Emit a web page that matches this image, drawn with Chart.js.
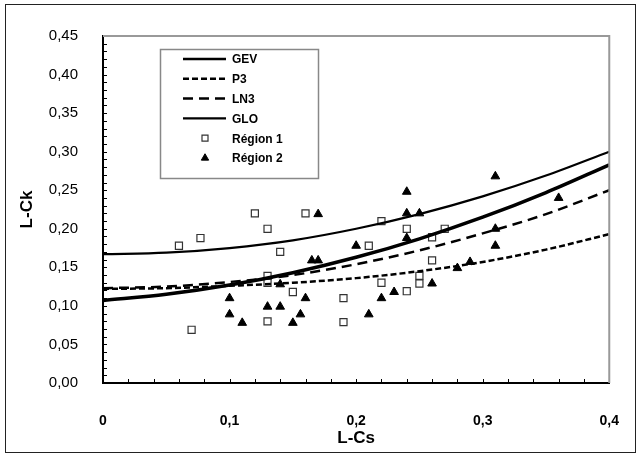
<!DOCTYPE html>
<html>
<head>
<meta charset="utf-8">
<script src="https://cdn.jsdelivr.net/npm/chart.js@4.4.1/dist/chart.umd.min.js"></script>
<style>
  html, body { margin: 0; padding: 0; background: #fff; }
  #wrap { width: 641px; height: 462px; }
</style>
</head>
<body>
<div id="wrap"><canvas id="lmomChart" width="641" height="462"></canvas></div>
<script>
// L-moment ratio diagram: theoretical curves
const curveCs = [0, 0.05, 0.10, 0.15, 0.20, 0.25, 0.30, 0.35, 0.40];
const gevCk = [0.107, 0.115, 0.127, 0.143, 0.163, 0.187, 0.215, 0.247, 0.283];
const p3Ck  = [0.122, 0.123, 0.126, 0.130, 0.136, 0.145, 0.157, 0.173, 0.193];
const ln3Ck = [0.123, 0.125, 0.131, 0.140, 0.154, 0.172, 0.194, 0.219, 0.250];
const gloCk = [0.167, 0.169, 0.175, 0.185, 0.200, 0.219, 0.242, 0.269, 0.300];

// stations
const region1Cs = [0.06, 0.077, 0.07, 0.12, 0.13, 0.14, 0.13, 0.13, 0.13, 0.15, 0.16, 0.19, 0.19, 0.21, 0.22, 0.22, 0.24, 0.24, 0.25, 0.25, 0.26, 0.26, 0.27];
const region1Ck = [0.178, 0.188, 0.069, 0.220, 0.200, 0.170, 0.139, 0.130, 0.080, 0.118, 0.220, 0.110, 0.079, 0.178, 0.210, 0.130, 0.200, 0.119, 0.139, 0.129, 0.189, 0.159, 0.200];
const region2Cs = [0.10, 0.10, 0.11, 0.13, 0.14, 0.14, 0.15, 0.156, 0.16, 0.165, 0.17, 0.17, 0.20, 0.21, 0.22, 0.23, 0.24, 0.24, 0.25, 0.24, 0.26, 0.28, 0.29, 0.31, 0.31, 0.31, 0.36];
const region2Ck = [0.110, 0.089, 0.078, 0.099, 0.099, 0.128, 0.078, 0.089, 0.110, 0.159, 0.159, 0.219, 0.178, 0.089, 0.110, 0.118, 0.248, 0.220, 0.220, 0.188, 0.129, 0.149, 0.157, 0.268, 0.200, 0.178, 0.240];

const seriesNames = ['GEV', 'P3', 'LN3', 'GLO', 'Région 1', 'Région 2'];

function pts(xs, ys) {
  return xs.map((x, i) => ({ x: x, y: ys[i] }));
}
function comma(v, d) {
  return v.toFixed(d).replace('.', ',');
}

function curve(label, ys, width, dash) {
  return {
    label: label,
    data: pts(curveCs, ys),
    showLine: true,
    borderColor: '#000',
    borderWidth: width,
    borderDash: dash,
    pointRadius: 0,
    cubicInterpolationMode: 'monotone',
    fill: false
  };
}

// frame, inner ticks, grey top/right border and the boxed legend
const decorPlugin = {
  id: 'decor',
  beforeDraw(chart) {
    const ctx = chart.ctx;
    ctx.save();
    ctx.fillStyle = '#fff';
    ctx.fillRect(0, 0, chart.width, chart.height);
    ctx.strokeStyle = '#222';
    ctx.lineWidth = 1;
    ctx.strokeRect(5.5, 4.5, 630, 448);
    ctx.restore();
  },
  afterDraw(chart) {
    const ctx = chart.ctx;
    const a = chart.chartArea;
    const xs = chart.scales.x, ys = chart.scales.y;
    ctx.save();
    // grey top and right border
    ctx.strokeStyle = '#999';
    ctx.lineWidth = 2;
    ctx.beginPath();
    ctx.moveTo(a.left, a.top);
    ctx.lineTo(a.right, a.top);
    ctx.lineTo(a.right, a.bottom);
    ctx.stroke();
    // minor ticks pointing inwards
    ctx.strokeStyle = '#000';
    ctx.lineWidth = 1;
    ctx.beginPath();
    for (let i = 1; i < 45; i++) {
      const y = Math.round(ys.getPixelForValue(i / 100)) + 0.5;
      ctx.moveTo(a.left, y);
      ctx.lineTo(a.left + 4, y);
    }
    for (let i = 1; i < 20; i++) {
      const x = Math.round(xs.getPixelForValue(i * 0.02)) + 0.5;
      ctx.moveTo(x, a.bottom);
      ctx.lineTo(x, a.bottom - 4);
    }
    ctx.stroke();

    // legend
    const bx = 160, by = 49, bw = 158, bh = 129;
    ctx.fillStyle = '#fff';
    ctx.fillRect(bx, by, bw, bh);
    ctx.strokeStyle = '#888';
    ctx.lineWidth = 1.5;
    ctx.strokeRect(bx + 0.5, by + 0.5, bw, bh);
    ctx.font = 'bold 12px "Liberation Sans", Arial, sans-serif';
    ctx.textBaseline = 'middle';
    chart.data.datasets.forEach((ds, i) => {
      const y = 59 + i * 19.8;
      ctx.save();
      if (ds.showLine) {
        ctx.strokeStyle = '#000';
        ctx.lineWidth = Math.min(ds.borderWidth, 2.5);
        ctx.setLineDash(ds.borderDash || []);
        ctx.beginPath();
        ctx.moveTo(183, y);
        ctx.lineTo(226, y);
        ctx.stroke();
      } else {
        ctx.fillStyle = ds.backgroundColor;
        ctx.strokeStyle = ds.borderColor;
        ctx.lineWidth = ds.borderWidth;
        Chart.helpers.drawPoint(ctx, {
          pointStyle: ds.pointStyle,
          radius: ds.pointRadius * 0.85,
          borderWidth: ds.borderWidth
        }, 205, y);
      }
      ctx.restore();
      ctx.fillStyle = '#000';
      ctx.fillText(ds.label, 232, y + 1);
    });
    ctx.restore();
  }
};

new Chart(document.getElementById('lmomChart').getContext('2d'), {
  type: 'scatter',
  data: {
    datasets: [
      curve(seriesNames[0], gevCk, 3.5, []),
      curve(seriesNames[1], p3Ck, 2.5, [6, 3]),
      curve(seriesNames[2], ln3Ck, 2.5, [10, 6]),
      curve(seriesNames[3], gloCk, 2.2, []),
      {
        label: seriesNames[4],
        data: pts(region1Cs, region1Ck),
        pointStyle: 'rect',
        pointRadius: 5,
        backgroundColor: '#fff',
        borderColor: '#333',
        borderWidth: 1.2
      },
      {
        label: seriesNames[5],
        data: pts(region2Cs, region2Ck),
        pointStyle: 'triangle',
        pointRadius: 5,
        backgroundColor: '#000',
        borderColor: '#000',
        borderWidth: 1
      }
    ]
  },
  options: {
    responsive: false,
    animation: false,
    layout: { padding: { left: 0, right: 22, top: 36, bottom: 0 } },
    scales: {
      x: {
        type: 'linear',
        min: 0,
        max: 0.4,
        afterFit(scale) { scale.height = 79; },
        grid: { display: false },
        border: { display: true, color: '#000', width: 2 },
        ticks: {
          stepSize: 0.1,
          padding: 22,
          color: '#000',
          font: { family: '"Liberation Sans", Arial, sans-serif', size: 14, weight: 'bold' },
          callback: v => v === 0 ? '0' : comma(v, 1)
        },
        title: {
          display: true,
          text: 'L-Cs',
          color: '#000',
          padding: { bottom: 13 },
          font: { family: '"Liberation Sans", Arial, sans-serif', size: 17, weight: 'bold' }
        }
      },
      y: {
        min: 0,
        max: 0.45,
        afterFit(scale) { scale.width = 103; },
        grid: { display: false },
        border: { display: true, color: '#000', width: 2 },
        ticks: {
          stepSize: 0.05,
          padding: 17,
          color: '#000',
          font: { family: '"Liberation Sans", Arial, sans-serif', size: 15 },
          callback: v => comma(v, 2)
        },
        title: {
          display: true,
          text: 'L-Ck',
          color: '#000',
          padding: { top: 17 },
          font: { family: '"Liberation Sans", Arial, sans-serif', size: 17, weight: 'bold' }
        }
      }
    },
    plugins: {
      legend: { display: false },
      tooltip: { enabled: false }
    }
  },
  plugins: [decorPlugin]
});
</script>
</body>
</html>
